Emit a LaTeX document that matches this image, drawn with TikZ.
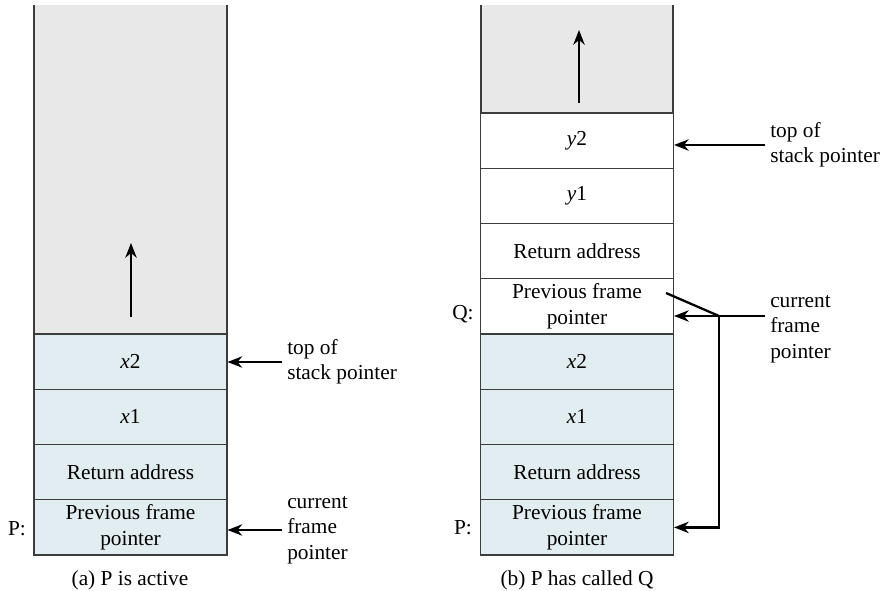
\documentclass[tikz,border=0pt]{standalone}
\usepackage{fontspec}
\setmainfont{Liberation Serif}
\usetikzlibrary{arrows.meta}
\definecolor{freegray}{HTML}{E8E8E8}
\definecolor{framefill}{HTML}{E1EDF0}
\definecolor{cellline}{HTML}{3C3C3C}

\begin{document}
\begin{tikzpicture}[x=0.75pt, y=-0.75pt,
  every node/.style={font=\fontsize{16}{19}\selectfont},
  cell/.style={draw=cellline, line width=0.8pt, fill=framefill,
               minimum width=144.75pt, minimum height=41.44pt,
               inner sep=0pt, align=center},
  newcell/.style={cell, fill=white},
  ptr/.style={align=left, inner sep=3.75pt, anchor=west},
  ptrarrow/.style={-{Stealth[length=11pt,width=8.5pt,inset=3.5pt]},
                   line width=1.7pt},
  >={Stealth}]
\useasboundingbox (0,0) rectangle (882,591);

% (a) P is active
\fill[freegray] (34,5) rectangle (227,334);
\draw[cellline, line width=0.8pt] (34,5) -- (34,334) (227,5) -- (227,334);
\coordinate (lgrow) at (131,317);
\draw[ptrarrow] (lgrow) -- ++(0,-74);
\node[cell] (lx2) at (130.5,361.6) {\textit{x}2};
\node[cell] (lx1) at (130.5,416.9) {\textit{x}1};
\node[cell] (lret) at (130.5,472.1) {Return address};
\node[cell] (lpfp) at (130.5,527.4) {Previous frame\\pointer};
\node (lp) at (17,529) {P:};
\node[ptr] (ltop) at (282,362) {top of\\stack pointer};
\node[ptr] (lcur) at (282,530) {current\\frame\\pointer};
\draw[ptrarrow] (ltop.west) -- (ltop.west -| lx2.east);
\draw[ptrarrow] (lcur.west) -- (lcur.west -| lpfp.east);
\node (lcap) at (130,580) {(a) P is active};

% (b) P has called Q
\fill[freegray] (481,5) rectangle (673,113);
\draw[cellline, line width=0.8pt] (481,5) -- (481,113) (673,5) -- (673,113);
\coordinate (rgrow) at (579,103);
\draw[ptrarrow] (rgrow) -- ++(0,-73);
\node[newcell] (ry2) at (577,140.6) {\textit{y}2};
\node[newcell] (ry1) at (577,195.9) {\textit{y}1};
\node[newcell] (rqret) at (577,251.1) {Return address};
\node[newcell] (rqpfp) at (577,306.4) {Previous frame\\pointer};
\node[cell] (rx2) at (577,361.6) {\textit{x}2};
\node[cell] (rx1) at (577,416.9) {\textit{x}1};
\node[cell] (rret) at (577,472.1) {Return address};
\node[cell] (rppfp) at (577,527.4) {Previous frame\\pointer};
\node (rq) at (463,314) {Q:};
\node (rp) at (463,528) {P:};
\node[ptr] (rtop) at (765,145) {top of\\stack pointer};
\node[ptr] (rcur) at (765,329) {current\\frame\\pointer};
\coordinate (rknee) at (719,316);
\coordinate (rold) at (666,293);
\draw[ptrarrow] (rtop.west) -- (rtop.west -| ry2.east);
\draw[ptrarrow] (rcur.west |- rknee) -- (rknee -| rqpfp.east);
\draw[ptrarrow] (rknee) |- (rppfp.east);
\draw[line width=1.7pt] (rold) -- (rknee);
\node (rcap) at (577,580) {(b) P has called Q};
\end{tikzpicture}
\end{document}
